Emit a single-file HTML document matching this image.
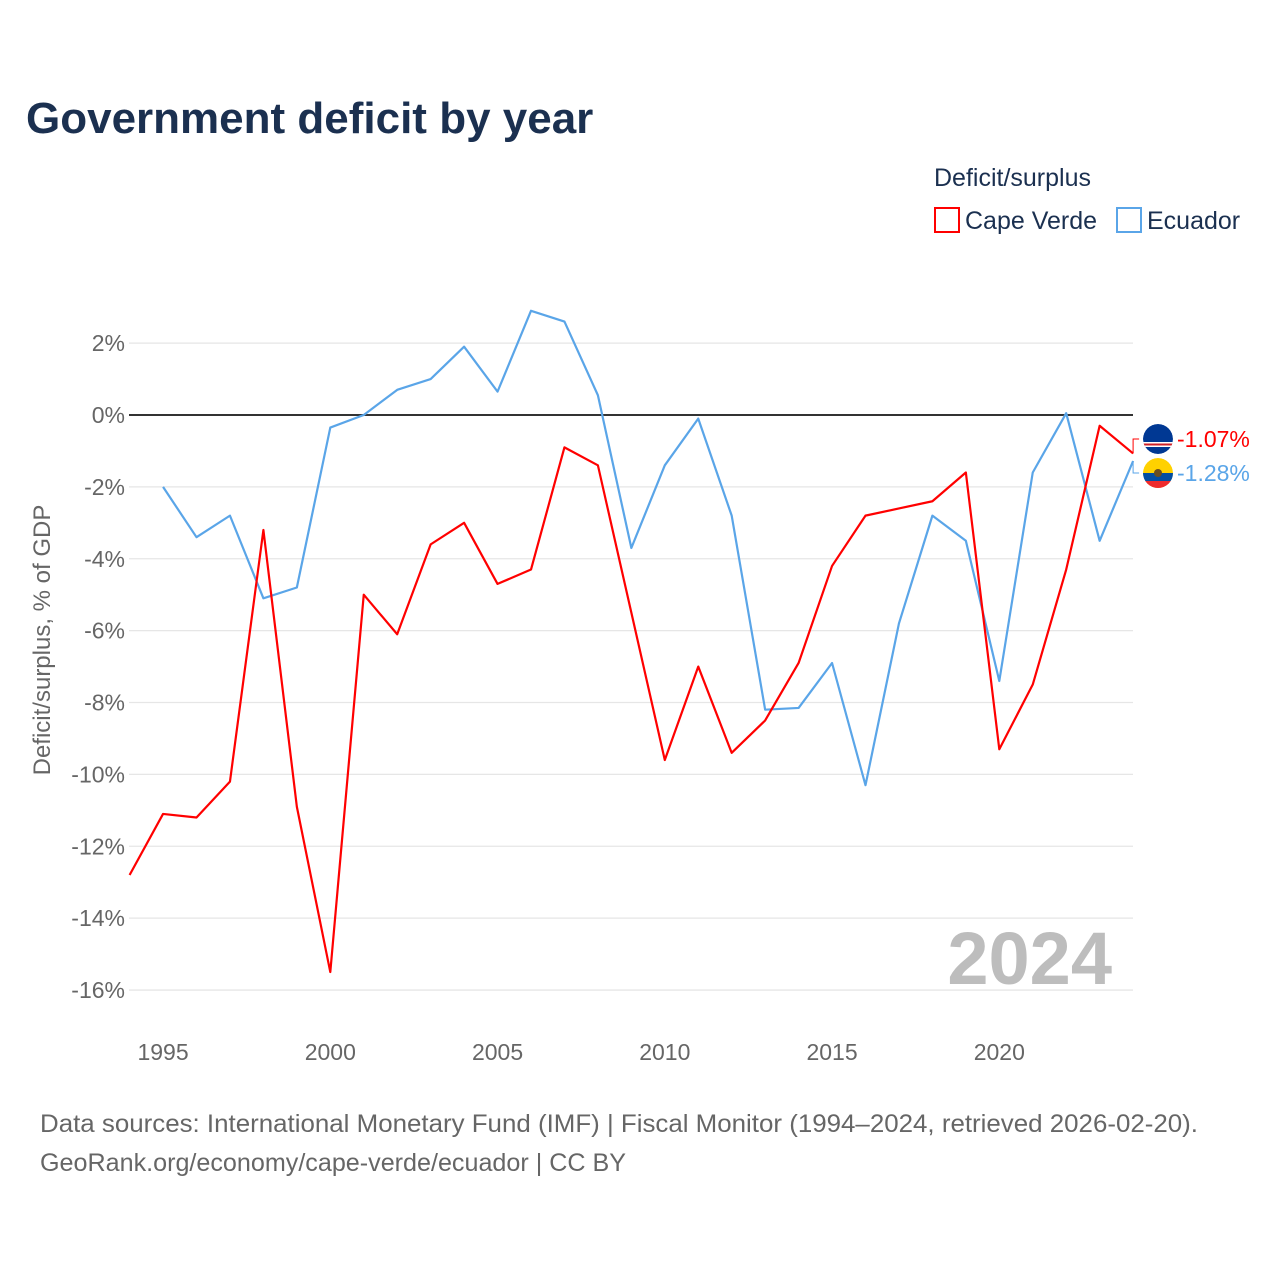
<!DOCTYPE html>
<html><head><meta charset="utf-8"><style>
body{margin:0;background:#fff;font-family:"Liberation Sans",sans-serif}
</style></head><body>
<svg id="c" width="1280" height="1280" viewBox="0 0 1280 1280" xmlns="http://www.w3.org/2000/svg">
<defs><clipPath id="cl1"><circle cx="1158" cy="439" r="15"/></clipPath><clipPath id="cl2"><circle cx="1158" cy="473" r="15"/></clipPath></defs>
<rect width="1280" height="1280" fill="#fff"/>
<text x="26" y="133" font-size="44" font-weight="bold" fill="#1b3050">Government deficit by year</text>
<text x="934" y="186" font-size="25" fill="#1b3050">Deficit/surplus</text>
<g><rect x="935" y="208" width="24" height="24" fill="none" stroke="#ff0000" stroke-width="2"/><text x="965" y="229" font-size="25" fill="#1b3050">Cape Verde</text></g>
<g><rect x="1117" y="208" width="24" height="24" fill="none" stroke="#5aa5e8" stroke-width="2"/><text x="1147" y="229" font-size="25" fill="#1b3050">Ecuador</text></g>
<g id="grid"></g><g id="xt"></g>
<text x="1112" y="984" font-size="74" font-weight="bold" fill="#bdbdbd" text-anchor="end">2024</text>
<text transform="translate(50,640) rotate(-90)" font-size="24" fill="#666" text-anchor="middle">Deficit/surplus, % of GDP</text>
<g id="series"></g>
<text x="40" y="1132" font-size="25" fill="#666" textLength="1158" lengthAdjust="spacingAndGlyphs">Data sources: International Monetary Fund (IMF) | Fiscal Monitor (1994–2024, retrieved 2026-02-20).</text>
<text x="40" y="1171" font-size="25" fill="#666" textLength="586" lengthAdjust="spacingAndGlyphs">GeoRank.org/economy/cape-verde/ecuador | CC BY</text>
</svg>
<script>
const years=[];for(let y=1994;y<=2024;y++)years.push(y);
const capeVerde=[-12.8,-11.1,-11.2,-10.2,-3.2,-10.9,-15.5,-5.0,-6.1,-3.6,-3.0,-4.7,-4.3,-0.9,-1.4,-5.5,-9.6,-7.0,-9.4,-8.5,-6.9,-4.2,-2.8,-2.6,-2.4,-1.6,-9.3,-7.5,-4.3,-0.3,-1.07];
const ecuador=[null,-2.0,-3.4,-2.8,-5.1,-4.8,-0.35,0.0,0.7,1.0,1.9,0.65,2.9,2.6,0.55,-3.7,-1.4,-0.1,-2.8,-8.2,-8.15,-6.9,-10.3,-5.8,-2.8,-3.5,-7.4,-1.6,0.05,-3.5,-1.28];
const yTicks=[2,0,-2,-4,-6,-8,-10,-12,-14,-16];
const xTicks=[1995,2000,2005,2010,2015,2020];
const X=y=>129.6+(y-1994)*33.45, Y=v=>415-v*35.94;
const NS="http://www.w3.org/2000/svg";
function mk(t,a,p){const e=document.createElementNS(NS,t);for(const k in a)e.setAttribute(k,a[k]);p.appendChild(e);return e;}
const g=document.getElementById('grid');
yTicks.forEach(v=>{
 const l=mk('line',{x1:129,x2:1133,y1:Y(v),y2:Y(v),stroke:v===0?'#333':'#e6e6e6','stroke-width':v===0?2:1.3},g);
 
 
 const t=mk('text',{x:125,y:Y(v)+8,'font-size':23,fill:'#666','text-anchor':'end'},g);t.textContent=v+'%';
 
 
});
const xt=document.getElementById('xt');
xTicks.forEach(y=>{const t=mk('text',{x:X(y),y:1060,'font-size':23,fill:'#666','text-anchor':'middle'},xt);t.textContent=y;
 
 });
const s=document.getElementById('series');
function line(d,col,name){let p='';d.forEach((v,i)=>{if(v===null)return;p+=(p?'L':'M')+X(years[i])+','+Y(v);});
 const e=mk('path',{d:p,fill:'none',stroke:col,'stroke-width':2.2,'stroke-linejoin':'round'},s);
 
 }
line(ecuador,'#5aa5e8','ecuador-line');line(capeVerde,'#ff0000','cape-verde-line');
function end(v,ly,col,flag,name,clip){
 const x=X(2024);
 mk('polyline',{points:`${x},${Y(v)} ${x},${ly} ${x+6},${ly}`,fill:'none',stroke:col,'stroke-width':1},s);
 const c=mk('g',{'clip-path':`url(#${clip})`},s);
 
 
 if(flag==='cv'){mk('circle',{cx:1158,cy:ly,r:15,fill:'#003893'},c);mk('rect',{x:1143,y:ly+3,width:30,height:5,fill:'#fff'},c);mk('rect',{x:1143,y:ly+4.5,width:30,height:2,fill:'#cf2027'},c);}
 else{mk('circle',{cx:1158,cy:ly,r:15,fill:'#ffd100'},c);mk('rect',{x:1143,y:ly,width:30,height:8,fill:'#034ea2'},c);mk('rect',{x:1143,y:ly+8,width:30,height:8,fill:'#ef2b2d'},c);mk('circle',{cx:1158,cy:ly,r:4,fill:'#6b4e1f'},c);}
 const t=mk('text',{x:1177,y:ly+8,'font-size':23,fill:col},s);t.textContent=v.toFixed(2)+'%';
 
 
}
end(capeVerde[30],439,'#ff0000','cv','cape-verde','cl1');
end(ecuador[30],473,'#5aa5e8','ec','ecuador','cl2');
</script>
</body></html>
